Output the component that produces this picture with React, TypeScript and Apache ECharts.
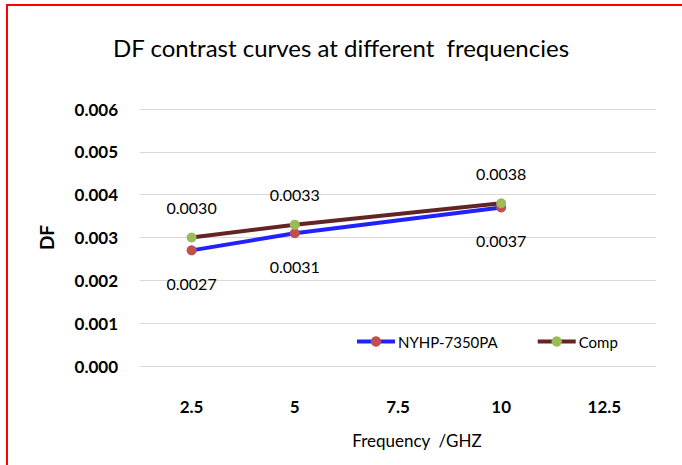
import React, { useEffect, useRef } from "react";
import * as echarts from "echarts";

const categories = ["2.5", "5", "7.5", "10", "12.5"];
const nyhpValues: (number | null)[] = [0.0027, 0.0031, null, 0.0037, null];
const compValues: (number | null)[] = [0.003, 0.0033, null, 0.0038, null];
const seriesNames = ["NYHP-7350PA", "Comp"];
const titleText = "DF contrast curves at different  frequencies";
const xTitle = "Frequency  /GHZ";
const yTitle = "DF";

const FONT = "Lato, 'Open Sans', sans-serif";

export default function App() {
  const ref = useRef<HTMLDivElement>(null);
  useEffect(() => {
    if (!ref.current) return;
    const chart = echarts.init(ref.current, undefined, { renderer: "svg" });
    const fmt = (p: any) => (p.value == null ? "" : Number(p.value).toFixed(4));
    chart.setOption({
      animation: false,
      backgroundColor: "#ffffff",
      textStyle: { fontFamily: FONT },
      title: {
        text: titleText,
        left: "center",
        top: 30,
        textStyle: { fontFamily: FONT, fontSize: 24, fontWeight: "normal", color: "#000" },
      },
      grid: { left: 140, right: 26, top: 109, bottom: 99 },
      legend: {
        left: 350,
        top: 329,
        itemWidth: 38,
        itemHeight: 13,
        itemGap: 38,
        lineStyle: { width: 4 },
        textStyle: { fontFamily: FONT, fontSize: 15, color: "#000", padding: [0, 0, 0, -2] },
        data: seriesNames,
      },
      xAxis: {
        type: "category",
        data: categories,
        boundaryGap: true,
        axisLine: { show: false },
        axisTick: { show: false },
        axisLabel: { margin: 32, fontFamily: FONT, fontSize: 17, fontWeight: "bold", color: "#000" },
        splitLine: { show: false },
      },
      yAxis: {
        type: "value",
        min: 0,
        max: 0.006,
        interval: 0.001,
        name: yTitle,
        nameLocation: "middle",
        nameRotate: 90,
        nameGap: 84,
        nameTextStyle: { fontFamily: FONT, fontSize: 19, fontWeight: "bold", color: "#000" },
        axisLine: { show: false },
        axisTick: { show: false },
        axisLabel: {
          margin: 22,
          fontFamily: FONT,
          fontSize: 17,
          fontWeight: "bold",
          color: "#000",
          formatter: (v: number) => v.toFixed(3),
        },
        splitLine: { lineStyle: { color: "#d9d9d9", width: 1 } },
      },
      graphic: [
        {
          type: "rect",
          shape: { x: 7, y: 5, width: 720, height: 520 },
          style: { fill: "none", stroke: "#ff0000", lineWidth: 2 },
          silent: true,
        },
        {
          type: "text",
          x: 417,
          y: 440,
          style: {
            text: xTitle,
            fontFamily: FONT,
            fontSize: 17,
            fill: "#000",
            textAlign: "center",
            textVerticalAlign: "middle",
          },
        },
      ],
      series: [
        {
          name: seriesNames[0],
          type: "line",
          data: nyhpValues,
          connectNulls: true,
          symbol: "circle",
          symbolSize: 10,
          lineStyle: { color: "#2222ff", width: 4 },
          itemStyle: { color: "#c0504d" },
          label: {
            show: true,
            position: "bottom",
            distance: 20,
            fontFamily: FONT,
            fontSize: 16,
            color: "#000",
            formatter: fmt,
          },
        },
        {
          name: seriesNames[1],
          type: "line",
          data: compValues,
          connectNulls: true,
          symbol: "circle",
          symbolSize: 10,
          lineStyle: { color: "#632523", width: 4 },
          itemStyle: { color: "#9bbb59" },
          label: {
            show: true,
            position: "top",
            distance: 17,
            fontFamily: FONT,
            fontSize: 16,
            color: "#000",
            formatter: fmt,
          },
        },
      ],
    });
    return () => chart.dispose();
  }, []);
  return (
    <div
      ref={ref}
      style={{ position: "absolute", left: 0, top: 0, width: 682, height: 465 }}
    />
  );
}
